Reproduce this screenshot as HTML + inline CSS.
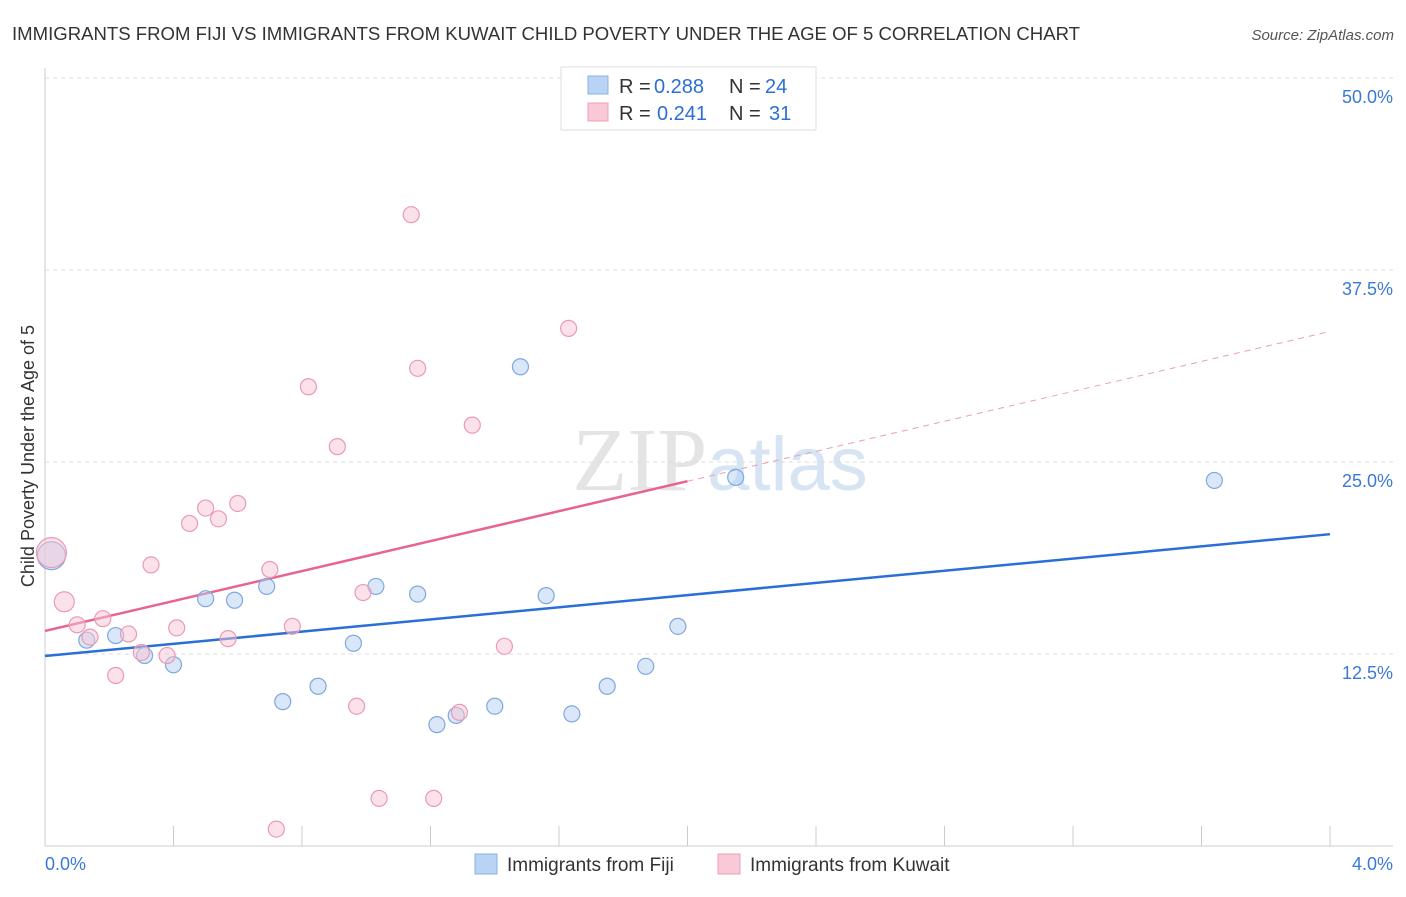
<!DOCTYPE html>
<html><head><meta charset="utf-8"><style>
body{margin:0;background:#fff;font-family:"Liberation Sans",sans-serif}
</style></head><body>
<svg id="chart" width="1406" height="892" xmlns="http://www.w3.org/2000/svg" font-family="Liberation Sans, sans-serif">
<text x="12" y="40" font-size="18" fill="#333" textLength="1068" lengthAdjust="spacingAndGlyphs">IMMIGRANTS FROM FIJI VS IMMIGRANTS FROM KUWAIT CHILD POVERTY UNDER THE AGE OF 5 CORRELATION CHART</text>
<text x="1394" y="40" font-size="15" fill="#555" text-anchor="end" font-style="italic">Source: ZipAtlas.com</text>
<text x="720" y="490" font-size="90" fill="#e4e4e4" text-anchor="middle" font-family="Liberation Serif, serif">ZIP<tspan fill="#d6e4f3" font-family="Liberation Sans, sans-serif" font-size="76">atlas</tspan></text>
<g id="grid"></g><g id="axes"></g><g id="trends"></g><g id="points"></g>
<text transform="translate(34,456) rotate(-90)" font-size="18" fill="#333" text-anchor="middle">Child Poverty Under the Age of 5</text>
<g>
<rect x="561" y="67" width="255" height="63" fill="#fff" stroke="#ddd"/>
<rect x="588" y="76" width="20" height="18" fill="#b9d3f5" stroke="#8ab0e6"/>
<text y="93" font-size="20" fill="#333"><tspan x="619">R =</tspan><tspan x="654" fill="#2b6fd6">0.288</tspan><tspan x="729">N =</tspan><tspan x="765" fill="#2b6fd6">24</tspan></text>
<rect x="588" y="103" width="20" height="18" fill="#f9c9d7" stroke="#ee9fb6"/>
<text y="120" font-size="20" fill="#333"><tspan x="619">R =</tspan><tspan x="657" fill="#2b6fd6">0.241</tspan><tspan x="729">N =</tspan><tspan x="769" fill="#2b6fd6">31</tspan></text>
</g>
<g>
<rect x="475" y="854" width="22" height="20" fill="#b9d3f5" stroke="#8ab0e6"/>
<text x="507" y="871" font-size="19" fill="#333">Immigrants from Fiji</text>
<rect x="718" y="854" width="22" height="20" fill="#f9c9d7" stroke="#ee9fb6"/>
<text x="750" y="871" font-size="19" fill="#333">Immigrants from Kuwait</text>
</g>
</svg>
<script>
const yTicks=[12.5,25,37.5,50];
const yTickLabels=["12.5%","25.0%","37.5%","50.0%"];
const xTicks=[0,0.4,0.8,1.2,1.6,2.0,2.4,2.8,3.2,3.6,4.0];
const fijiX=[0.02,0.13,0.22,0.31,0.40,0.50,0.59,0.69,0.74,0.85,0.96,1.03,1.16,1.22,1.28,1.40,1.48,1.56,1.64,1.75,1.87,1.97,2.15,3.64];
const fijiY=[18.9,13.4,13.7,12.4,11.8,16.1,16.0,16.9,9.4,10.4,13.2,16.9,16.4,7.9,8.5,9.1,31.2,16.3,8.6,10.4,11.7,14.3,24.0,23.8];
const kuwaitX=[0.02,0.06,0.10,0.14,0.18,0.22,0.26,0.30,0.33,0.38,0.41,0.45,0.50,0.54,0.57,0.60,0.70,0.72,0.77,0.82,0.91,0.97,0.99,1.04,1.14,1.16,1.21,1.29,1.33,1.43,1.63];
const kuwaitY=[19.1,15.9,14.4,13.6,14.8,11.1,13.8,12.6,18.3,12.4,14.2,21.0,22.0,21.3,13.5,22.3,18.0,1.1,14.3,29.9,26.0,9.1,16.5,3.1,41.1,31.1,3.1,8.7,27.4,13.0,33.7];
const fijiTrend=[12.37,20.3];
const kuwaitTrend=[14.0,33.5];
const kuwaitSolidEnd=[2.0];
const X=v=>45+v/4*1285, Y=v=>846-v/12.5*192;
const NS="http://www.w3.org/2000/svg";
function mk(p,t,a){const e=document.createElementNS(NS,t);for(const k in a)e.setAttribute(k,a[k]);p.appendChild(e);return e;}
const grid=document.getElementById('grid'),axes=document.getElementById('axes'),tr=document.getElementById('trends'),pts=document.getElementById('points');
yTicks.forEach((t,i)=>{
 const l=mk(grid,'line',{x1:45,x2:1393,y1:Y(t),y2:Y(t),stroke:'#ddd','stroke-dasharray':'4,4'});
 
 
 const tx=mk(axes,'text',{x:1393,y:Y(t)+25,'font-size':18,fill:'#3b78d8','text-anchor':'end'});tx.textContent=yTickLabels[i];
 
 
});
const ax=mk(axes,'line',{x1:45,x2:1393,y1:846,y2:846,stroke:'#ccc'});


const ay=mk(axes,'line',{x1:45,x2:45,y1:68,y2:846,stroke:'#ccc'});


xTicks.forEach(t=>{const l=mk(axes,'line',{x1:X(t),x2:X(t),y1:826,y2:846,stroke:'#ccc'});
 
 });
[[0,"0.0%",'start',45],[4,"4.0%",'end',1393]].forEach(d=>{const t=mk(axes,'text',{x:d[3],y:870,'font-size':18,fill:'#3b78d8','text-anchor':d[2]});t.textContent=d[1];
 
 });
const tf=v=>fijiTrend[0]+(fijiTrend[1]-fijiTrend[0])*v/4, tk=v=>kuwaitTrend[0]+(kuwaitTrend[1]-kuwaitTrend[0])*v/4;
let l=mk(tr,'line',{x1:X(0),y1:Y(tf(0)),x2:X(4),y2:Y(tf(4)),stroke:'#2b6fd6','stroke-width':2.5});


l=mk(tr,'line',{x1:X(0),y1:Y(tk(0)),x2:X(kuwaitSolidEnd[0]),y2:Y(tk(kuwaitSolidEnd[0])),stroke:'#e8648e','stroke-width':2.5});


l=mk(tr,'line',{x1:X(kuwaitSolidEnd[0]),y1:Y(tk(kuwaitSolidEnd[0])),x2:X(4),y2:Y(tk(4)),stroke:'#e8a0b6','stroke-width':1,'stroke-dasharray':'6,5'});


fijiX.forEach((x,i)=>{const c=mk(pts,'circle',{cx:X(x),cy:Y(fijiY[i]),r:i==0?14:8,fill:'rgba(180,208,242,0.5)',stroke:'#7ea8e0','stroke-width':1.2});
 
 });
kuwaitX.forEach((x,i)=>{const c=mk(pts,'circle',{cx:X(x),cy:Y(kuwaitY[i]),r:i==0?15:(i==1?10:8),fill:'rgba(248,195,212,0.5)',stroke:'#eb9ab3','stroke-width':1.2});
 
 });
</script>
</body></html>
